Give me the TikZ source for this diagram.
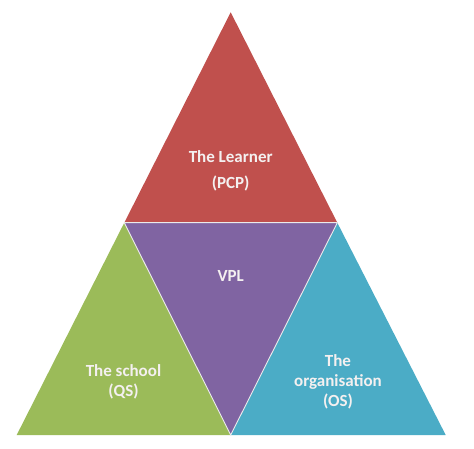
\documentclass[tikz,border=0pt]{standalone}
\usepackage{fontspec}
\setmainfont{Carlito}
\definecolor{cred}{HTML}{C0504D}
\definecolor{cpurple}{HTML}{8064A2}
\definecolor{cgreen}{HTML}{9BBB59}
\definecolor{cblue}{HTML}{4BACC6}
\definecolor{ctext}{HTML}{F4F0F0}
\tikzset{
  piece/.style={draw=white!92!black, line width=0.9pt, line join=round},
  lbl/.style={text=ctext, font=\bfseries\fontsize{17}{20}\selectfont, align=center, inner sep=0pt}
}
\begin{document}
\begin{tikzpicture}[x=1pt,y=-1pt]
\useasboundingbox (0,0) rectangle (474,449);
\fill[white] (0,0) rectangle (474,449);
\coordinate (A) at (230.7,12.3);
\coordinate (L) at (16.7,435);
\coordinate (R) at (445.7,435);
\coordinate (ML) at (124.3,222.7);
\coordinate (MR) at (337.3,222.7);
\coordinate (MB) at (230.7,435);
\fill[cred] (A) -- (ML) -- (MR) -- cycle;
\fill[cgreen] (ML) -- (L) -- (MB) -- cycle;
\fill[cblue] (MR) -- (MB) -- (R) -- cycle;
\fill[cpurple] (ML) -- (MR) -- (MB) -- cycle;
\draw[piece] (ML) -- (MR) -- (MB) -- cycle;
\node[lbl] (learner) at (230.7,157) {The Learner};
\node[lbl] (pcp) at (230.7,183.5) {(PCP)};
\node[lbl] (vpl) at (230.7,276) {VPL};
\node[lbl] (school) at (123.5,382) {The school\\(QS)};
\node[lbl] (org) at (338,382) {The\\organisation\\(OS)};
\end{tikzpicture}
\end{document}
